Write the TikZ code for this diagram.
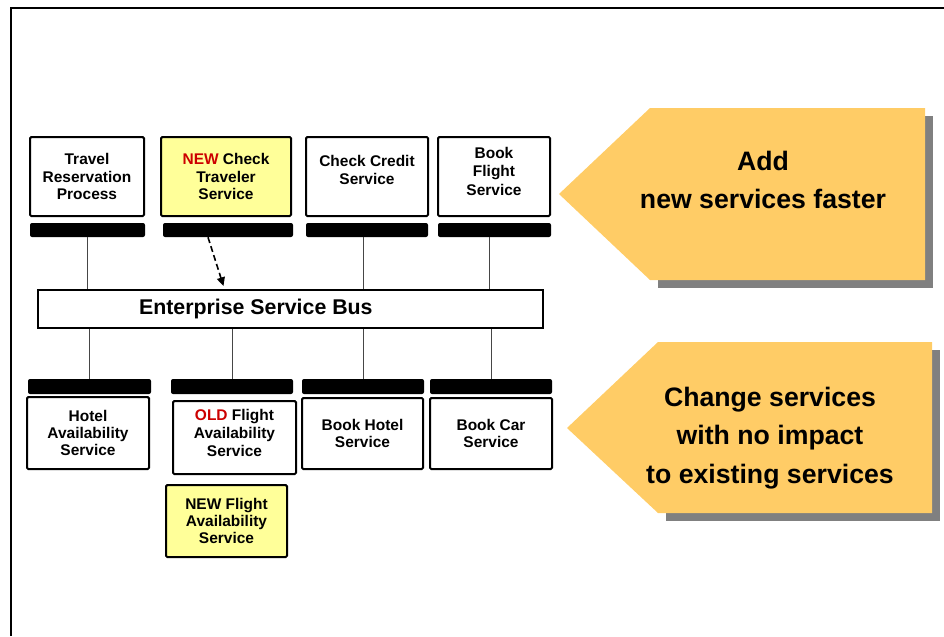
\documentclass[tikz,border=0pt]{standalone}
\usepackage{fontspec}
\setmainfont{Liberation Sans}
\usepackage{tikz}
\usetikzlibrary{arrows.meta, calc}
\definecolor{goalfill}{RGB}{255,204,102}
\definecolor{newfill}{RGB}{255,255,153}
\definecolor{oldred}{RGB}{204,0,0}
\definecolor{shadowgray}{RGB}{128,128,128}
\definecolor{wiregray}{RGB}{70,70,70}
\newcommand{\liftlines}[2]{\raisebox{#1}[0pt][0pt]{\renewcommand{\arraystretch}{1.06}\begin{tabular}{@{}c@{}}#2\end{tabular}}}
\tikzset{
  svcbox/.style={rectangle, draw=black, fill=white, line width=1.5pt,
    rounded corners=1pt, inner sep=0pt, align=center,
    font=\fontsize{11.6}{12.8}\selectfont\bfseries},
  newbox/.style={svcbox, fill=newfill},
  busbar/.style={rectangle, fill=black, rounded corners=1.5pt, inner sep=0pt},
  busbox/.style={rectangle, draw=black, fill=white, line width=1.5pt,
    inner sep=0pt, font=\fontsize{16}{19}\selectfont\bfseries},
  wire/.style={draw=wiregray, line width=0.7pt},
  dasharrow/.style={-{Triangle[length=6.5pt,width=6pt]}, dash pattern=on 4.5pt off 2.5pt,
    line width=1.2pt, color=black},
  goaltext/.style={align=center, font=\fontsize{20}{29}\selectfont\bfseries}
}

\begin{document}
\begin{tikzpicture}[x=0.75pt, y=-0.75pt]
    \useasboundingbox (0,0) rectangle (944,636);
    % Frame
    \draw[line width=1.5pt] (11,636) -- (11,8) -- (944,8);

    % Upper services
    \node[svcbox, minimum width=85.5pt, minimum height=59.25pt] (trp) at (87,176.5) {Travel\\Reservation\\Process};
    \node[newbox, minimum width=97.5pt, minimum height=59.25pt] (nct) at (226,176.5) {\textcolor{oldred}{NEW} Check\\Traveler\\Service};
    \node[svcbox, minimum width=91.5pt, minimum height=59.25pt] (ccs) at (367,176.5) {\liftlines{0.8pt}{Check Credit\\Service}};
    \node[svcbox, minimum width=84pt, minimum height=59.25pt] (bfs) at (494,176.5) {\liftlines{-0.6pt}{Book\\Flight\\Service}};

    % Upper bars
    \node[busbar, minimum width=86.25pt, minimum height=10.5pt] (tb1) at (87.5,230) {};
    \node[busbar, minimum width=97.5pt, minimum height=10.5pt] (tb2) at (228,230) {};
    \node[busbar, minimum width=91.5pt, minimum height=10.5pt] (tb3) at (367,230) {};
    \node[busbar, minimum width=84.75pt, minimum height=10.5pt] (tb4) at (494.5,230) {};

    % Bus
    \node[busbox, minimum width=378.75pt, minimum height=28.5pt] (bus) at (290.5,309) {Enterprise Service Bus\hspace*{52pt}};

    % Lower bars
    \node[busbar, minimum width=92.25pt, minimum height=11.25pt] (bb1) at (89.5,386.5) {};
    \node[busbar, minimum width=91.5pt, minimum height=11.25pt] (bb2) at (232,386.5) {};
    \node[busbar, minimum width=91.5pt, minimum height=11.25pt] (bb3) at (363,386.5) {};
    \node[busbar, minimum width=91.5pt, minimum height=11.25pt] (bb4) at (491,386.5) {};

    % Lower services
    \node[svcbox, minimum width=91.5pt, minimum height=54pt] (has) at (88,433) {Hotel\\Availability\\Service};
    \node[svcbox, minimum width=92.25pt, minimum height=54.75pt] (ofa) at (234.5,437.5) {\liftlines{-1.2pt}{\textcolor{oldred}{OLD} Flight\\Availability\\Service}};
    \node[svcbox, minimum width=90.75pt, minimum height=53.25pt] (bhs) at (362.5,433.5) {Book Hotel\\Service};
    \node[svcbox, minimum width=91.5pt, minimum height=53.25pt] (bcs) at (491,433.5) {Book Car\\Service};
    \node[newbox, minimum width=90.75pt, minimum height=54pt] (nfa) at (226.5,521) {NEW Flight\\Availability\\Service};

    % Wires to the bus
    \draw[wire] (tb1.south) -- (tb1.south |- bus.north);
    \draw[wire] ($(tb3.south)+(-4,0)$) -- ($(tb3.south |- bus.north)+(-4,0)$);
    \draw[wire] ($(tb4.south)+(-5,0)$) -- ($(tb4.south |- bus.north)+(-5,0)$);
    \draw[wire] (bb1.north |- bus.south) -- (bb1.north);
    \draw[wire] (bb2.north |- bus.south) -- (bb2.north);
    \draw[wire] (bb3.north |- bus.south) -- (bb3.north);
    \draw[wire] (bb4.north |- bus.south) -- (bb4.north);
    \draw[dasharrow] ($(tb2.south)+(-20,0)$) -- ($(bus.north)+(-67,-3)$);

    % Goal arrows
    \fill[shadowgray] (658,116) rectangle (933,288);
    \fill[goalfill] (559,194) -- (650,108) -- (925,108) -- (925,280) -- (650,280) -- cycle;
    \node[goaltext] (addgoal) at (763,180) {Add\\new services faster};

    \fill[shadowgray] (666,350) rectangle (940,521);
    \fill[goalfill] (567,428) -- (658,342) -- (932,342) -- (932,513) -- (658,513) -- cycle;
    \node[goaltext] (changegoal) at (770,438) {Change services\\with no impact\\to existing services};
  \end{tikzpicture}
\end{document}
